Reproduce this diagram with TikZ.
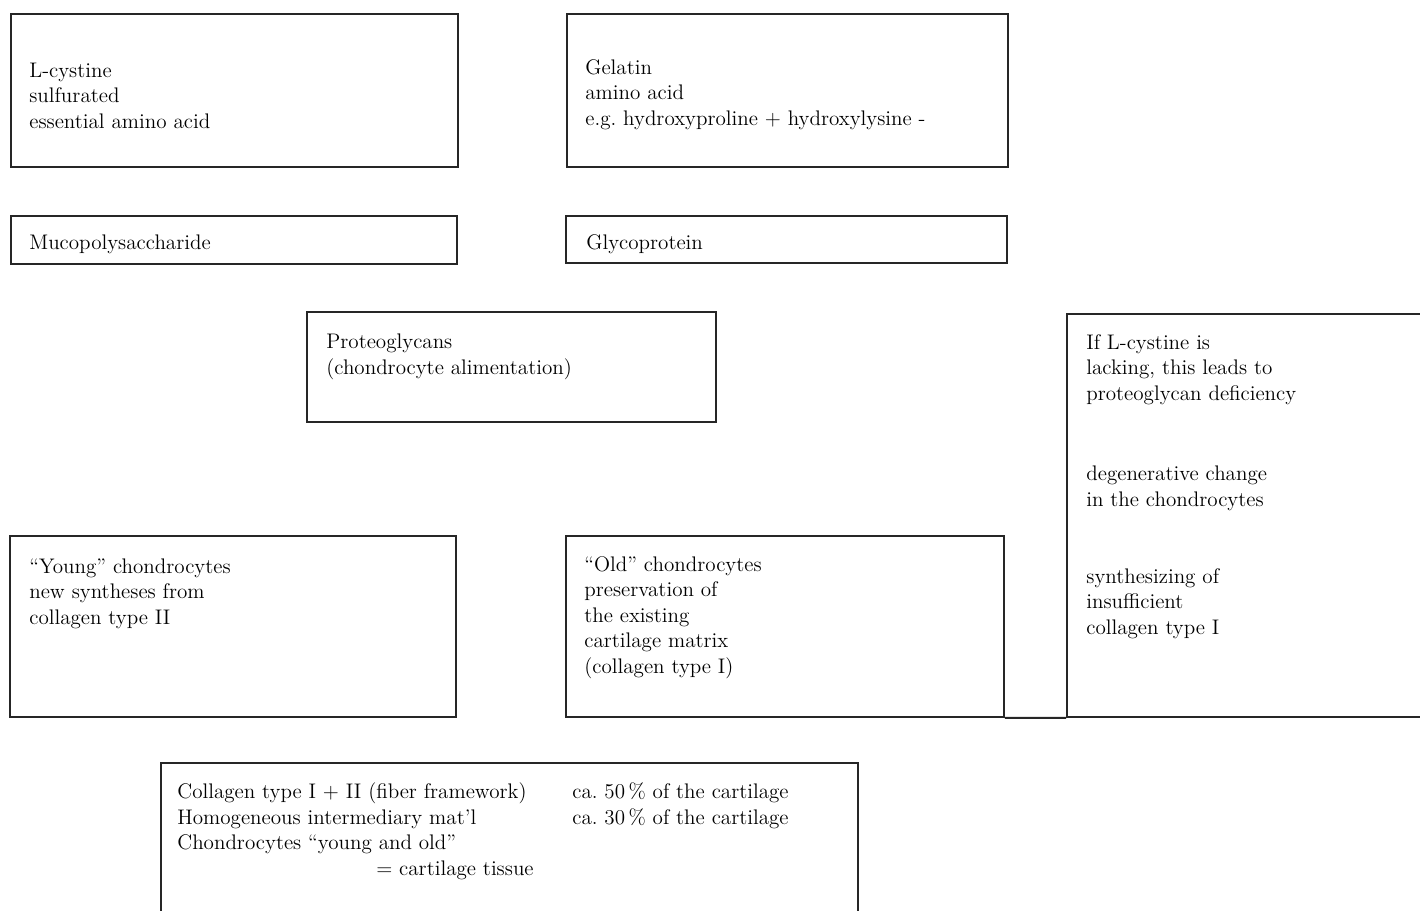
\documentclass[tikz,border=0pt]{standalone}
\usepackage{tikz}
\tikzset{every node/.style={font=\fontsize{12}{14.5}\selectfont}}

\begin{document}
\begin{tikzpicture}[x=0.02cm, y=-0.02cm]
  \tikzstyle{box}=[draw=black!85, line width=1.1pt, rectangle, anchor=north west, inner sep=0pt]
  % base of a node with several lines = baseline of its last line
  \tikzstyle{txt}=[anchor=base west, inner sep=0pt, align=left]
  \useasboundingbox (0,0) rectangle (1420,910);
  \clip (0,0) rectangle (1420,910);

    % boxes
    \node(cys)   [box, minimum width=8.94cm, minimum height=3.06cm] at (10,13) {};
    \node(gel)   [box, minimum width=8.82cm, minimum height=3.06cm] at (566,13) {};
    \node(muc)   [box, minimum width=8.92cm, minimum height=0.96cm] at (10,215) {};
    \node(gly)   [box, minimum width=8.82cm, minimum height=0.94cm] at (565,215) {};
    \node(pro)   [box, minimum width=8.18cm, minimum height=2.2cm]  at (306,311) {};
    \node(lack)  [box, minimum width=8.2cm,  minimum height=8.06cm] at (1066,313) {};
    \node(young) [box, minimum width=8.92cm, minimum height=3.62cm] at (9,535) {};
    \node(old)   [box, minimum width=8.76cm, minimum height=3.62cm] at (565,535) {};
    \node(tis)   [box, minimum width=13.94cm, minimum height=4.2cm] at (160,762) {};

    % texts
    \node(cysT)   [txt] at ([shift={(19,115)}]cys.north west) {L-cystine\\ sulfurated\\ essential amino acid};
    \node(gelT)   [txt] at ([shift={(19,112)}]gel.north west) {Gelatin\\ amino acid\\ e.g.\ hydroxyproline + hydroxylysine -};
    \node(mucT)   [txt] at ([shift={(19,34)}]muc.north west) {Mucopolysaccharide};
    \node(glyT)   [txt] at ([shift={(21,34)}]gly.north west) {Glycoprotein};
    \node(proT)   [txt] at ([shift={(20,63)}]pro.north west) {Proteoglycans\\ (chondrocyte alimentation)};
    \node(lackT1) [txt] at ([shift={(20,87)}]lack.north west) {If L-cystine is\\ lacking, this leads to\\ proteoglycan deficiency};
    \node(lackT2) [txt] at ([shift={(20,193)}]lack.north west) {degenerative change\\ in the chondrocytes};
    \node(lackT3) [txt] at ([shift={(20,321)}]lack.north west) {synthesizing of\\ insufficient\\ collagen type I};
    \node(youngT) [txt] at ([shift={(20,89)}]young.north west) {``Young'' chondrocytes\\ new syntheses from\\ collagen type II};
    \node(oldT)   [txt] at ([shift={(19,138)}]old.north west) {``Old'' chondrocytes\\ preservation of\\ the existing\\ cartilage matrix\\ (collagen type I)};
    \node(tisT)   [txt] at ([shift={(17,113)}]tis.north west) {Collagen type I + II (fiber framework)\\ Homogeneous intermediary mat'l\\ Chondrocytes ``young and old''\\ \hspace*{3.98cm}= cartilage tissue};
    \node(tisR)   [txt] at ([shift={(412,62)}]tis.north west) {ca.\ 50\,\% of the cartilage\\ ca.\ 30\,\% of the cartilage};

    \draw [draw=black!85, line width=1.1pt] (old.south east) -- (lack.south west);

  \end{tikzpicture}
\end{document}
